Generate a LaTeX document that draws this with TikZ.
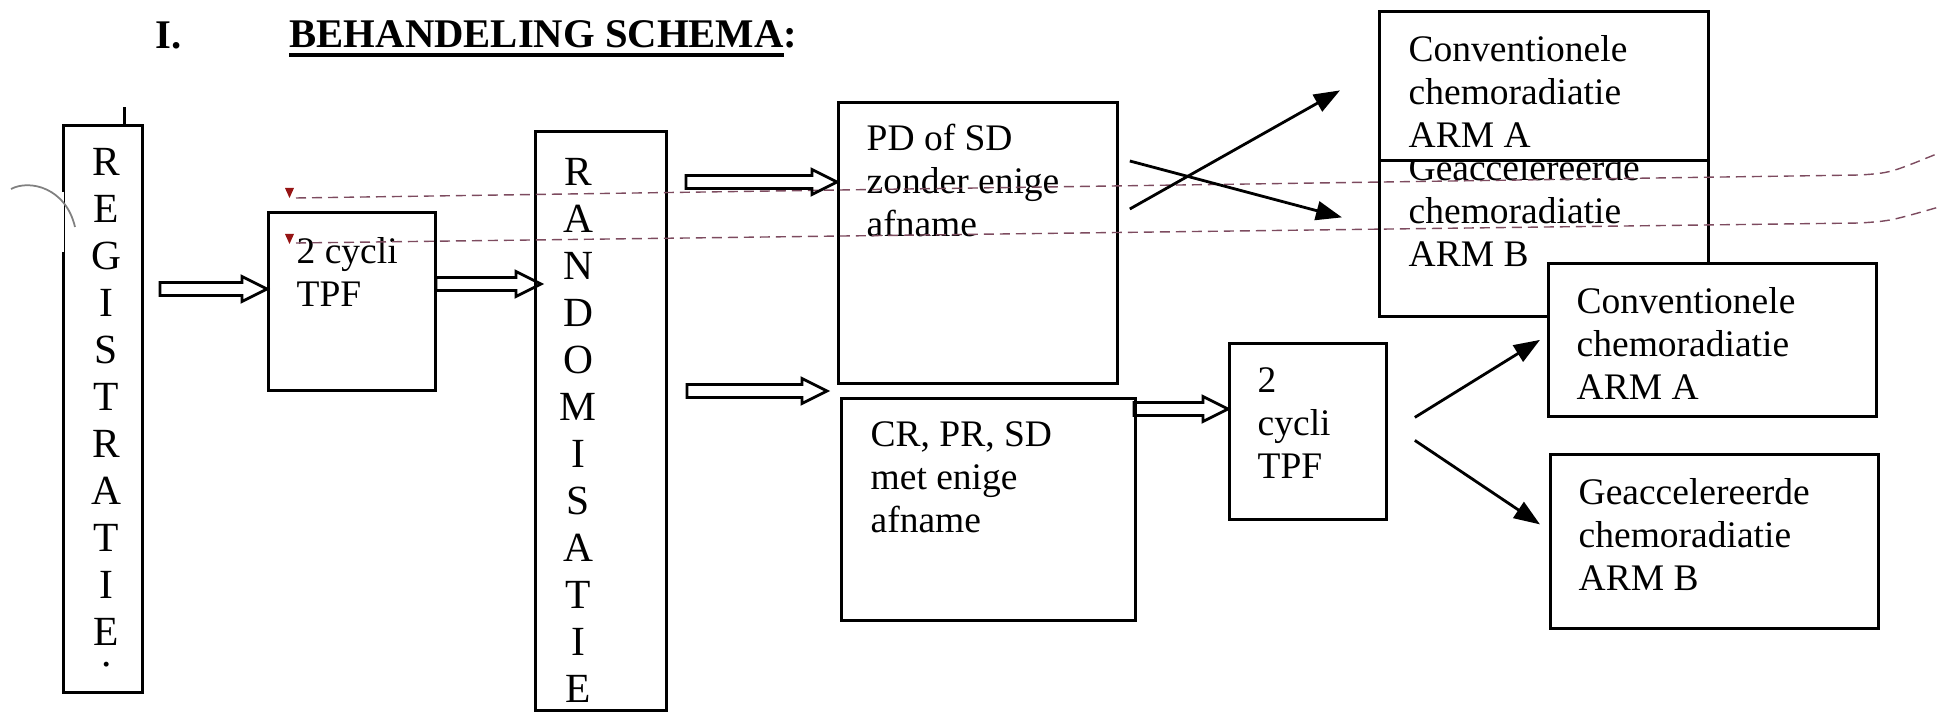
\documentclass[tikz,border=0pt]{standalone}
\usepackage{fontspec}
\setmainfont{Liberation Serif}
\usetikzlibrary{arrows.meta,positioning,calc}
\definecolor{dashcol}{RGB}{125,75,95}
\definecolor{markred}{RGB}{150,20,20}

\begin{document}
\begin{tikzpicture}[
    >={Triangle[length=0.26cm,width=0.19cm]},
    box/.style={draw, line width=0.8pt, fill=white, anchor=north west, inner sep=0},
    txt/.style={font=\fontsize{10.67}{12.23}\selectfont, align=left, inner sep=0},
    letters/.style={font=\fontsize{11.8}{13.37}\selectfont, align=center, inner sep=0},
    arr/.style={->, line width=0.8pt},
    hollow/.style={line width=0.8pt, to path={let \p1=(\tikztostart), \p2=(\tikztotarget) in
      (\x1,\y1+0.065cm) -- (\x2-0.25cm,\y1+0.065cm) -- (\x2-0.25cm,\y1+0.125cm) -- (\x2,\y1)
      -- (\x2-0.25cm,\y1-0.125cm) -- (\x2-0.25cm,\y1-0.065cm) -- (\x1,\y1-0.065cm) -- cycle}},
    scan/.style={dashcol, line width=0.4pt, dash pattern=on 0.1cm off 0.06cm}
  ]
  \useasboundingbox (0,0) rectangle (19.39,7.13);

  % title
  \node[anchor=base west, inner sep=0, font=\fontsize{11.58}{14}\selectfont\bfseries] (num) at (1.55,6.64) {I.};
  \node[anchor=base west, inner sep=0, font=\fontsize{11.58}{14}\selectfont\bfseries] (title) at (2.89,6.65) {BEHANDELING SCHEMA:};
  \draw[line width=1pt] ([yshift=-0.07cm]title.base west) -- ([yshift=-0.07cm, xshift=-0.14cm]title.base east);

  % left column
  \node[box, minimum width=0.79cm, minimum height=5.67cm] (reg) at (0.62,5.89) {};
  \draw[white, line width=1.2pt] ([yshift=-0.68cm]reg.north west) -- ++(0,-0.60);
  \draw[gray, line width=0.5pt] (0.11,5.24) .. controls (0.30,5.34) and (0.66,5.25) .. (0.75,4.86);
  \draw[line width=0.8pt] ([xshift=-0.19cm]reg.north east) -- ++(0,0.17);
  \node[letters, below=0.235cm of reg.north, xshift=0.035cm] (regtxt) {R\\E\\G\\I\\S\\T\\R\\A\\T\\I\\E};
  \node[letters, below=0.16cm of regtxt] (regdot) {.};

  \node[box, minimum width=1.67cm, minimum height=1.78cm] (tpfA) at (2.67,5.02) {};
  \node[txt, below right=0.26cm and 0.29cm of tpfA.north west] (tpfAtxt) {2 cycli\\TPF};

  \node[box, minimum width=1.31cm, minimum height=5.79cm] (rand) at (5.34,5.83) {};
  \node[letters, below=0.275cm of rand.north, xshift=-0.225cm] (randtxt) {R\\A\\N\\D\\O\\M\\I\\S\\A\\T\\I\\E};

  % response boxes
  \node[box, minimum width=2.79cm, minimum height=2.81cm] (pd) at (8.37,6.12) {};
  \node[txt, below right=0.22cm and 0.29cm of pd.north west] (pdtxt) {PD of SD\\zonder enige\\afname};

  \node[box, minimum width=2.94cm, minimum height=2.22cm] (cr) at (8.40,3.16) {};
  \node[txt, below right=0.24cm and 0.30cm of cr.north west] (crtxt) {CR, PR, SD\\met enige\\afname};

  \node[box, minimum width=1.57cm, minimum height=1.76cm] (tpfB) at (12.28,3.71) {};
  \node[txt, below right=0.25cm and 0.29cm of tpfB.north west] (tpfBtxt) {2\\cycli\\TPF};

  % arms
  \node[box, minimum width=3.29cm, minimum height=1.56cm] (armB1) at (13.78,5.54) {};
  \node[txt, below right=-0.05cm and 0.30cm of armB1.north west] (armB1txt) {Geaccelereerde\\chemoradiatie\\ARM B};
  \node[box, minimum width=3.29cm, minimum height=1.49cm] (armA1) at (13.78,7.03) {};
  \node[txt, below right=0.25cm and 0.30cm of armA1.north west] (armA1txt) {Conventionele\\chemoradiatie\\ARM A};

  \node[box, minimum width=3.28cm, minimum height=1.53cm] (conv2) at (15.47,4.51) {};
  \node[txt, below right=0.25cm and 0.29cm of conv2.north west] (conv2txt) {Conventionele\\chemoradiatie\\ARM A};
  \node[box, minimum width=3.28cm, minimum height=1.74cm] (geacc2) at (15.49,2.60) {};
  \node[txt, below right=0.25cm and 0.29cm of geacc2.north west] (geacc2txt) {Geaccelereerde\\chemoradiatie\\ARM B};

  % scan lines
  \draw[scan] (2.96,5.15) -- (18.6,5.38) .. controls (18.9,5.40) .. (19.39,5.60);
  \draw[scan] (2.96,4.70) -- (18.6,4.90) .. controls (18.9,4.92) .. (19.39,5.06);
  \fill[markred] (2.85,5.25) -- (2.94,5.25) -- (2.895,5.15) -- cycle;
  \fill[markred] (2.85,4.79) -- (2.94,4.79) -- (2.895,4.69) -- cycle;

  % hollow arrows
  \coordinate (h1) at (1.60,4.24);
  \draw[hollow] (h1) to (tpfA.west);
  \coordinate (h2) at (4.36,4.29);
  \draw[hollow] (h2) to ([xshift=0.07cm]rand.west);
  \coordinate (h3) at (6.86,5.31);
  \draw[hollow] (h3) to (pd.west);
  \coordinate (h4) at (6.87,3.22);
  \coordinate (gap) at (8.27,3.22);
  \draw[hollow] (h4) to (gap);
  \coordinate (h5) at (11.34,3.04);
  \draw[hollow] (h5) to (tpfB.west);

  % arms arrows
  \draw[arr] ($(pd.north east)+(0.11,-1.08)$) -- ($(armA1.west)+(-0.38,-0.045)$);
  \draw[arr] ($(pd.north east)+(0.11,-0.60)$) -- ($(armB1.west)+(-0.36,0.21)$);
  \draw[arr] ($(tpfB.east)+(0.27,0.14)$) -- ($(conv2.west)+(-0.07,0)$);
  \draw[arr] ($(tpfB.east)+(0.27,-0.09)$) -- ($(geacc2.west)+(-0.09,0.17)$);
\end{tikzpicture}
\end{document}
